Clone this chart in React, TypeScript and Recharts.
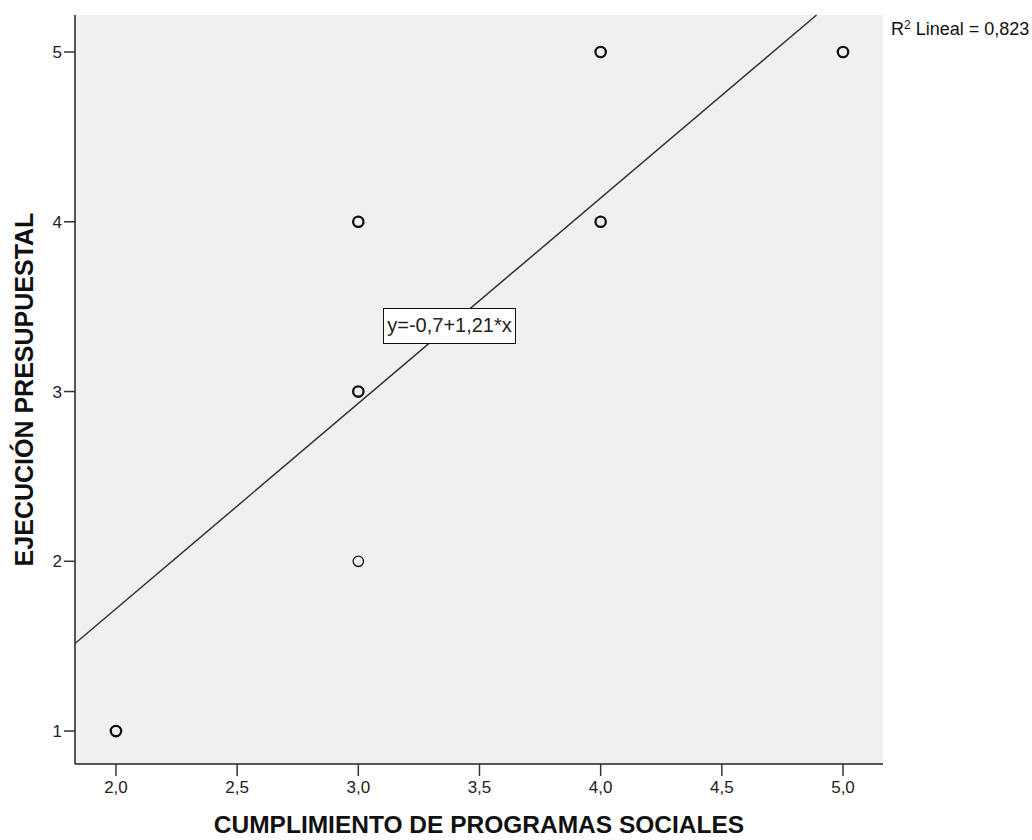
import { ScatterChart, Scatter, XAxis, YAxis, CartesianGrid, ReferenceLine, Label } from "recharts";

// observaciones (los círculos más gruesos son casos repetidos)
const cumplimiento = [2, 3, 3, 3, 4, 4, 5];
const ejecucion = [1, 2, 3, 4, 4, 5, 5];
const casos = [2, 1, 3, 2, 2, 2, 3];

const xTicks = [2, 2.5, 3, 3.5, 4, 4.5, 5];
const yTicks = [1, 2, 3, 4, 5];
const xDomain = [1.831, 5.165];
const yDomain = [0.806, 5.218];

// ajuste lineal
const intercepto = -0.7;
const pendiente = 1.21;
const r2 = 0.823;

const puntos = cumplimiento.map((x, i) => ({ x, y: ejecucion[i], n: casos[i] }));

const fit = (x: number) => intercepto + pendiente * x;
const lineStart = { x: xDomain[0], y: fit(xDomain[0]) };
const lineEnd = { x: (yDomain[1] - intercepto) / pendiente, y: yDomain[1] };

const coma = (v: number, d: number) => v.toFixed(d).replace(".", ",");
const FONT = "'Liberation Sans', Arial, sans-serif";

const Punto = (props: any) => {
  const { cx, cy, payload } = props;
  return (
    <circle cx={cx} cy={cy} r={5.2} fill="none" stroke="#111" strokeWidth={payload.n > 1 ? 2.3 : 1.3} />
  );
};

export default function App() {
  return (
    <div style={{ position: "absolute", left: 0, top: 0, width: 1032, height: 840, background: "#fff", fontFamily: FONT }}>
      <ScatterChart width={1032} height={840} margin={{ top: 15, right: 149, bottom: 0, left: 0 }}>
        <CartesianGrid fill="#f0f0f0" horizontal={false} vertical={false} />
        <XAxis
          type="number"
          dataKey="x"
          domain={xDomain}
          allowDataOverflow
          ticks={xTicks}
          tickFormatter={(v) => coma(v, 1)}
          height={76}
          tickSize={12}
          tickMargin={5}
          stroke="#222"
          axisLine={{ stroke: "#222", strokeWidth: 1.5 }}
          tickLine={{ stroke: "#333", strokeWidth: 1.5 }}
          tick={{ fontSize: 17, fill: "#222", fontFamily: FONT }}
        >
          <Label
            content={({ viewBox }: any) => (
              <text
                x={viewBox.x + viewBox.width / 2}
                y={833}
                textAnchor="middle"
                fontSize={24.5}
                fontWeight="bold"
                fontFamily={FONT}
                fill="#111"
              >
                CUMPLIMIENTO DE PROGRAMAS SOCIALES
              </text>
            )}
          />
        </XAxis>
        <YAxis
          type="number"
          dataKey="y"
          domain={yDomain}
          allowDataOverflow
          ticks={yTicks}
          width={75}
          tickSize={11}
          tickMargin={2}
          axisLine={{ stroke: "#222", strokeWidth: 1.5 }}
          tickLine={{ stroke: "#333", strokeWidth: 1.5 }}
          tick={{ fontSize: 17, fill: "#222", fontFamily: FONT }}
        >
          <Label
            content={({ viewBox }: any) => {
              const cy = viewBox.y + viewBox.height / 2;
              return (
                <text
                  x={33}
                  y={cy}
                  transform={`rotate(-90 33 ${cy})`}
                  textAnchor="middle"
                  fontSize={25}
                  fontWeight="bold"
                  fontFamily={FONT}
                  fill="#111"
                >
                  EJECUCIÓN PRESUPUESTAL
                </text>
              );
            }}
          />
        </YAxis>
        <XAxis
          xAxisId="top"
          orientation="top"
          type="number"
          domain={xDomain}
          allowDataOverflow
          height={0}
          tick={false}
          tickLine={false}
          axisLine={{ stroke: "#7a7a7a", strokeWidth: 1.5 }}
        />
        <YAxis
          yAxisId="right"
          orientation="right"
          type="number"
          domain={yDomain}
          allowDataOverflow
          width={0}
          tick={false}
          tickLine={false}
          axisLine={{ stroke: "#7a7a7a", strokeWidth: 1.5 }}
        />
        <ReferenceLine segment={[lineStart, lineEnd]} stroke="#333" strokeWidth={1.5} ifOverflow="visible" />
        <Scatter data={puntos} shape={Punto} isAnimationActive={false} />
      </ScatterChart>

      <div
        style={{
          position: "absolute",
          left: 383,
          top: 308,
          width: 133,
          height: 36,
          boxSizing: "border-box",
          border: "1.5px solid #111",
          background: "#fff",
          fontSize: 20,
          lineHeight: "33px",
          textAlign: "center",
          color: "#222",
        }}
      >
        {`y=${coma(intercepto, 1)}+${coma(pendiente, 2)}*x`}
      </div>

      <div style={{ position: "absolute", left: 891, top: 20, fontSize: 18, lineHeight: "18px", color: "#111", whiteSpace: "nowrap" }}>
        R<sup style={{ fontSize: 12, verticalAlign: "6px", lineHeight: 0 }}>2</sup> Lineal = {coma(r2, 3)}
      </div>
    </div>
  );
}
